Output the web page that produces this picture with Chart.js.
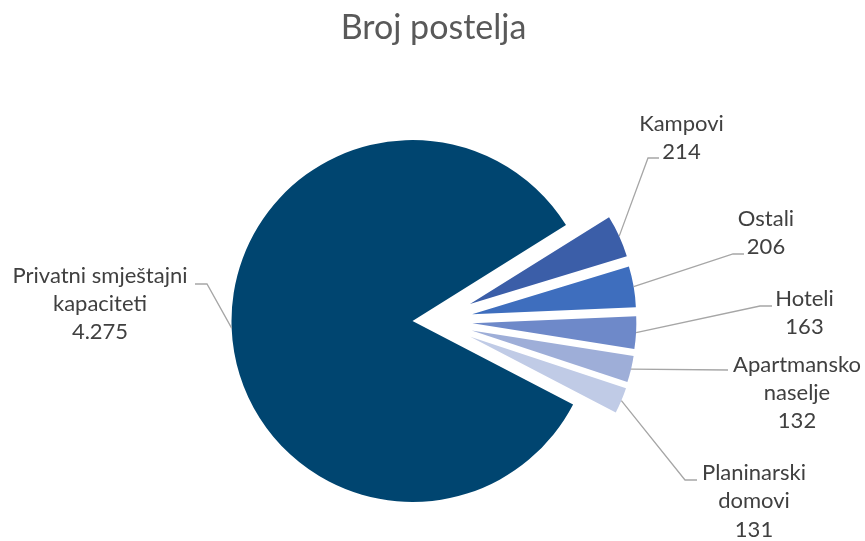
<!DOCTYPE html>
<html>
<head>
<meta charset="utf-8">
<script src="https://cdn.jsdelivr.net/npm/chart.js@4/dist/chart.umd.min.js"></script>
<style>
html,body{margin:0;padding:0;background:#ffffff;}
#wrap{width:865px;height:541px;position:relative;}
</style>
</head>
<body>
<div id="wrap"><canvas id="c"></canvas></div>
<script>
// ---- data ----
const chartTitle = 'Broj postelja';
const categories = ['Kampovi', 'Ostali', 'Hoteli', ['Apartmansko', 'naselje'], ['Planinarski', 'domovi'], ['Privatni smještajni', 'kapaciteti']];
const values = [214, 206, 163, 132, 131, 4275];
const exploded = [true, true, true, true, true, false];

// ---- styles ----
const sliceColors = ['#3B5EA8', '#3E6EBE', '#6E89C9', '#9EAED8', '#C0CBE6', '#004570'];
const FONT = 'Lato, "Open Sans", sans-serif';
const LABEL_SIZE = 22;
const LINE_H = 28.3;
const TITLE_SIZE = 34;
const EXPLODE_DIST = 0.331;   // fraction of radius
const EXPLODE_SCALE = 0.906;  // exploded slices drawn smaller
const EXPLODE_TURN = 0.67;    // explode direction relative to slice mid-angle

// label placement: text centre x, first baseline y, leader end (ex,ey), elbow x (bx)
const labelLayout = [
  {tx: 681.5, ty: 131,   ex: 659, ey: 158, bx: 648},
  {tx: 766,   ty: 226,   ex: 744, ey: 254, bx: 733},
  {tx: 804.5, ty: 306,   ex: 772, ey: 306, bx: 760},
  {tx: 797,   ty: 371.5, ex: 728, ey: 370, bx: null},
  {tx: 754,   ty: 480,   ex: 697, ey: 480, bx: 685},
  {tx: 100,   ty: 282.5, ex: 195, ey: 284, bx: 207}
];

function fmt(v) {
  return String(v).replace(/\B(?=(\d{3})+(?!\d))/g, '.');
}

const explodePlugin = {
  id: 'explodeSlices',
  afterDatasetsUpdate(chart) {
    const meta = chart.getDatasetMeta(0);
    meta.data.forEach((arc, i) => {
      if (!exploded[i]) return;
      let mid = (arc.startAngle + arc.endAngle) / 2;
      mid = Math.atan2(Math.sin(mid), Math.cos(mid));
      const dir = mid * EXPLODE_TURN;
      const dist = arc.outerRadius * EXPLODE_DIST;
      arc.x += Math.cos(dir) * dist;
      arc.y += Math.sin(dir) * dist;
      arc.outerRadius *= EXPLODE_SCALE;
    });
  }
};

const labelPlugin = {
  id: 'sliceLabels',
  afterDraw(chart) {
    const ctx = chart.ctx;
    const meta = chart.getDatasetMeta(0);
    ctx.save();
    // title
    ctx.fillStyle = '#595959';
    ctx.font = TITLE_SIZE + 'px ' + FONT;
    ctx.textAlign = 'center';
    ctx.textBaseline = 'alphabetic';
    ctx.fillText(chartTitle, chart.width / 2 + 1, 38.5);

    meta.data.forEach((arc, i) => {
      const mid = (arc.startAngle + arc.endAngle) / 2;
      const ax = arc.x + Math.cos(mid) * arc.outerRadius;
      const ay = arc.y + Math.sin(mid) * arc.outerRadius;
      const L = labelLayout[i];
      ctx.strokeStyle = '#A6A6A6';
      ctx.lineWidth = 1.3;
      ctx.beginPath();
      ctx.moveTo(ax, ay);
      if (L.bx !== null) ctx.lineTo(L.bx, L.ey);
      ctx.lineTo(L.ex, L.ey);
      ctx.stroke();

      const lines = [].concat(categories[i], fmt(values[i]));
      ctx.fillStyle = '#404040';
      ctx.font = LABEL_SIZE + 'px ' + FONT;
      ctx.textAlign = 'center';
      ctx.textBaseline = 'alphabetic';
      lines.forEach((t, k) => ctx.fillText(t, L.tx, L.ty + k * LINE_H));
    });
    ctx.restore();
  }
};

new Chart(document.getElementById('c'), {
  type: 'pie',
  data: {
    labels: categories,
    datasets: [{
      data: values,
      backgroundColor: sliceColors,
      borderWidth: 0
    }]
  },
  options: {
    responsive: true,
    maintainAspectRatio: false,
    animation: false,
    rotation: 58,
    radius: 181,
    layout: {padding: {left: 0, right: 40, top: 101, bottom: 0}},
    plugins: {
      legend: {display: false},
      title: {display: false},
      tooltip: {enabled: false}
    },
    events: []
  },
  plugins: [explodePlugin, labelPlugin]
});
</script>
</body>
</html>
